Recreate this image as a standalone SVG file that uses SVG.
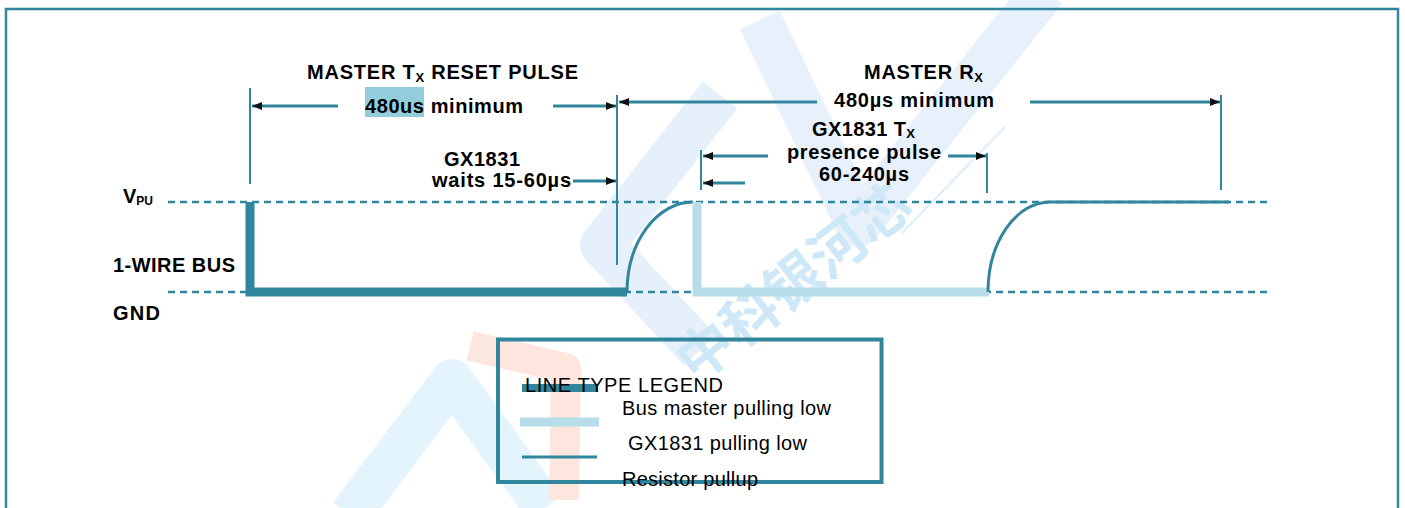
<svg xmlns="http://www.w3.org/2000/svg" width="1405" height="508" viewBox="0 0 1405 508">
  <style>
    .b { font-family: "Liberation Sans", Arial, sans-serif; font-weight: bold; font-size: 20px; fill: #000; }
    .r { font-family: "Liberation Sans", Arial, sans-serif; font-size: 20px; fill: #000; }
    .dash { stroke: #31859C; stroke-width: 2.5; stroke-dasharray: 7 5; fill: none; }
    .tick { stroke: #31859C; stroke-width: 2; fill: none; }
    .arr { stroke: #31859C; stroke-width: 3; fill: none; marker-end: url(#ah); }
    .master { stroke: #31859C; stroke-width: 9; fill: none; stroke-linejoin: miter; }
    .slave { stroke: #B6DDE8; stroke-width: 9; fill: none; stroke-linejoin: miter; }
    .pull { stroke: #31859C; stroke-width: 3; fill: none; }
    .wm { fill: none; stroke-linejoin: round; stroke-linecap: butt; }
    .wmt { font-family: "Noto Sans CJK SC", sans-serif; font-weight: bold; font-size: 56px; fill: #CFE8F8; }
  </style>
  <defs>
    <marker id="ah" markerUnits="userSpaceOnUse" markerWidth="10" markerHeight="8" refX="10" refY="4" orient="auto">
      <path d="M0,0 L10,4 L0,8 z" fill="#111"/>
    </marker>
  </defs>
  <rect width="1405" height="508" fill="#fff"/>

  <g id="watermark">
    <polyline class="wm" points="350,515 452,380 545,508" stroke="#E3F4FC" stroke-width="42"/>
    <polyline class="wm" points="470,346 566,368 564,500" stroke="#FDE6DE" stroke-width="30"/>
    <polyline class="wm" points="720,95 602,245 700,350" stroke="#E6F0FB" stroke-width="44"/>
    <polyline class="wm" points="760,20 858,225 1045,-10" stroke="#E8F0FC" stroke-width="44"/>
    <line x1="1005" y1="127" x2="902" y2="233" stroke="#DDEFFB" stroke-width="2"/>
    <text class="wmt" x="800" y="300" text-anchor="middle" transform="rotate(-38 800 290)">中科银河芯</text>
  </g>

  <rect id="frame" x="6" y="9" width="1392" height="600" fill="none" stroke="#31859C" stroke-width="2.5"/>

  <g id="levels">
    <line class="dash" x1="168" y1="202" x2="1267" y2="202"/>
    <line class="dash" x1="168" y1="292" x2="1267" y2="292"/>
  </g>

  <g id="waveform">
    <path class="master" d="M250,202 V292 H627"/>
    <path class="pull" d="M627,292 A66,90 0 0 1 693,202"/>
    <path class="slave" d="M697,202 V292 H989"/>
    <path class="pull" d="M988,292 A62,90 0 0 1 1050,202 H1229"/>
  </g>

  <g id="connectors">
    <line class="tick" x1="250" y1="88" x2="250" y2="184"/>
    <line class="tick" x1="617" y1="95" x2="617" y2="265"/>
    <line class="tick" x1="701" y1="150" x2="701" y2="190"/>
    <line class="tick" x1="987" y1="153" x2="987" y2="193"/>
    <line class="tick" x1="1221" y1="95" x2="1221" y2="190"/>
    <line class="arr" x1="338" y1="106" x2="252" y2="106"/>
    <line class="arr" x1="553" y1="106" x2="616" y2="106"/>
    <line class="arr" x1="817" y1="102" x2="619" y2="102"/>
    <line class="arr" x1="1030" y1="102" x2="1220" y2="102"/>
    <line class="arr" x1="573" y1="181" x2="616" y2="181"/>
    <line class="arr" x1="768" y1="156" x2="703" y2="156"/>
    <line class="arr" x1="948" y1="156" x2="986" y2="156"/>
    <line class="arr" x1="745" y1="183" x2="703" y2="183"/>
  </g>

  <g id="labels">
    <text class="b" x="307" y="79" textLength="271">MASTER T<tspan font-size="13" dy="3">X</tspan><tspan dy="-3"> RESET PULSE</tspan></text>
    <rect x="365" y="87" width="59" height="30" fill="#92CDDC"/>
    <text class="b" x="365" y="113" textLength="158">480us minimum</text>
    <text class="b" x="444" y="166" textLength="76">GX1831</text>
    <text class="b" x="432" y="187" textLength="139">waits 15-60µs</text>
    <text class="b" x="864" y="79" textLength="119">MASTER R<tspan font-size="13" dy="3">X</tspan></text>
    <text class="b" x="834" y="107" textLength="160">480µs minimum</text>
    <text class="b" x="812" y="136" textLength="103">GX1831 T<tspan font-size="13" dy="2">X</tspan></text>
    <text class="b" x="787" y="159" textLength="154">presence pulse</text>
    <text class="b" x="819" y="181" textLength="90">60-240µs</text>
    <text class="b" x="123" y="203">V<tspan font-size="12" dy="2">PU</tspan></text>
    <text class="b" x="113" y="272" textLength="122">1-WIRE BUS</text>
    <text class="b" x="113" y="320" textLength="47">GND</text>
  </g>

  <g id="legend">
    <line x1="522" y1="388" x2="598" y2="388" stroke="#31859C" stroke-width="8"/>
    <line x1="520" y1="422" x2="599" y2="422" stroke="#B6DDE8" stroke-width="9"/>
    <line x1="522" y1="457" x2="597" y2="457" stroke="#31859C" stroke-width="3"/>
    <rect x="498" y="339.5" width="383.5" height="142.5" fill="none" stroke="#31859C" stroke-width="4"/>
    <text class="r" x="525" y="392" textLength="198">LINE TYPE LEGEND</text>
    <text class="r" x="622" y="415" textLength="209">Bus master pulling low</text>
    <text class="r" x="628" y="450" textLength="179">GX1831 pulling low</text>
    <text class="r" x="622" y="486" textLength="136">Resistor pullup</text>
  </g>
</svg>
